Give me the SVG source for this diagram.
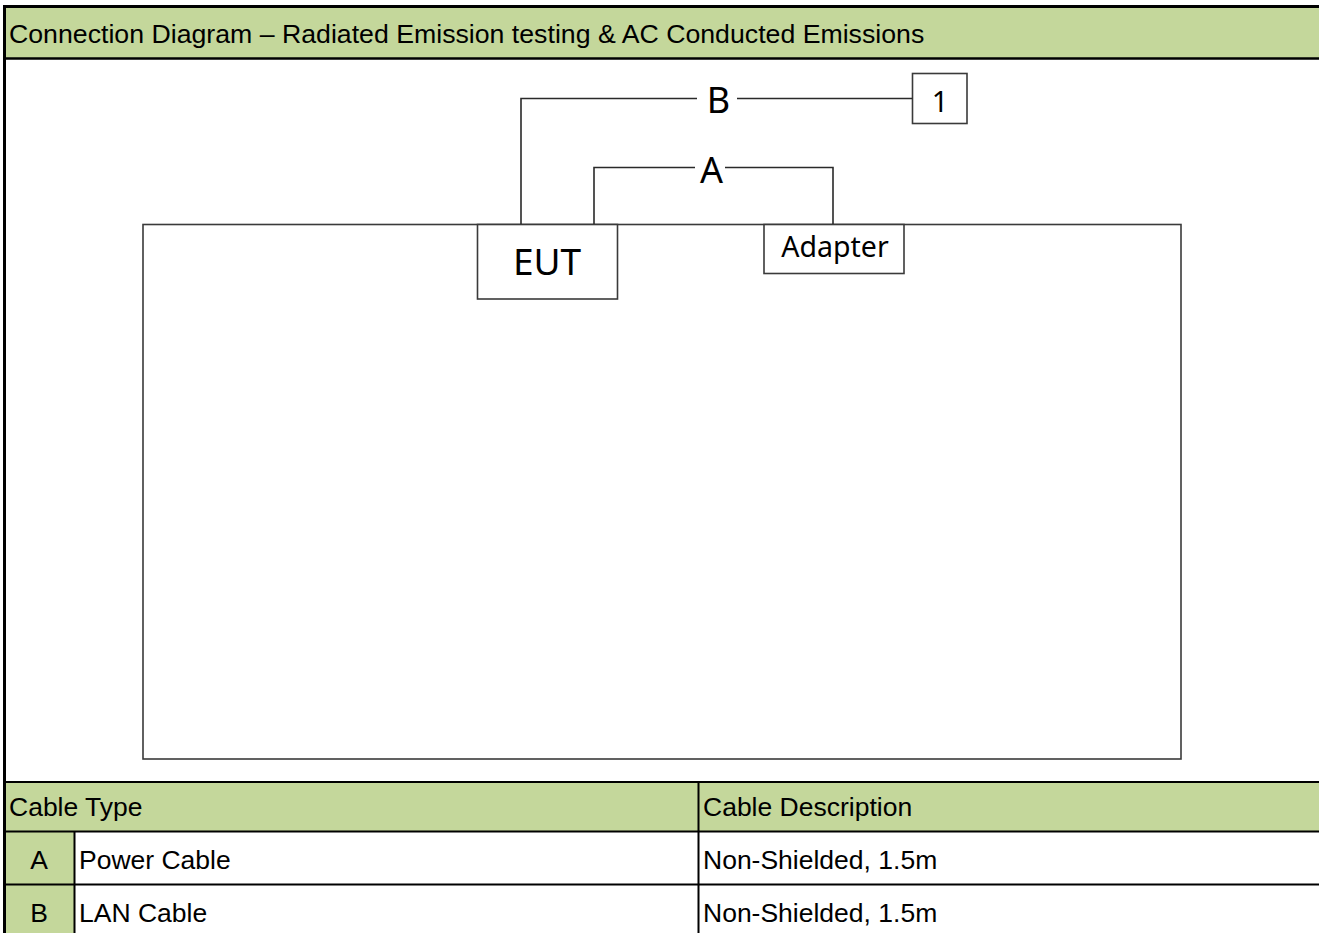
<svg xmlns="http://www.w3.org/2000/svg" width="1319" height="933" viewBox="0 0 1319 933">
<style>
.t{font-family:"Liberation Sans",Arial,sans-serif;fill:#000;font-size:26.5px}
.d{font-family:"Noto Sans","Open Sans",sans-serif;fill:#000}
.box{fill:#fff;stroke:#3a3a3a;stroke-width:1.6}
.wire{fill:none;stroke:#2a2a2a;stroke-width:1.6}
.g{fill:#C4D79B}
.bl{stroke:#000;fill:none}
</style>
<rect x="0" y="0" width="1319" height="933" fill="#fff"/>
<g id="header">
<rect class="g" x="5" y="8" width="1314" height="50"/>
<text class="t" x="9" y="43" style="font-size:26.7px">Connection Diagram – Radiated Emission testing &amp; AC Conducted Emissions</text>
</g>
<g id="table-area">
<rect x="143" y="224.5" width="1038" height="534.5" class="box"/>
</g>
<g id="eut">
<rect x="477.5" y="224.5" width="140" height="74.5" class="box"/>
<text class="d" x="547" y="275" font-size="37" text-anchor="middle">EUT</text>
</g>
<g id="adapter">
<rect x="764" y="224.5" width="140" height="49" class="box"/>
<text class="d" x="835" y="257" font-size="28.5" text-anchor="middle">Adapter</text>
</g>
<g id="device1">
<rect x="912.5" y="73.5" width="54.5" height="50" class="box"/>
<text class="d" x="940" y="111.5" font-size="29" text-anchor="middle">1</text>
</g>
<g id="connectors">
<path class="wire" d="M521 224 V98.5 H697 M737 98.5 H912.5"/>
<text class="d" x="718.5" y="112.5" font-size="36" text-anchor="middle">B</text>
<path class="wire" d="M594 224 V167.5 H695 M725 167.5 H833 V224"/>
<text class="d" x="711.5" y="183" font-size="36" text-anchor="middle">A</text>
</g>
<g id="cable-table">
<rect class="g" x="5" y="782" width="1314" height="50"/>
<rect class="g" x="5" y="832" width="69" height="101"/>
<text class="t" x="9" y="816">Cable Type</text>
<text class="t" x="703" y="816">Cable Description</text>
<text class="t" x="39" y="869" text-anchor="middle">A</text>
<text class="t" x="79" y="869">Power Cable</text>
<text class="t" x="703" y="869">Non-Shielded, 1.5m</text>
<text class="t" x="39" y="922" text-anchor="middle">B</text>
<text class="t" x="79" y="922">LAN Cable</text>
<text class="t" x="703" y="922">Non-Shielded, 1.5m</text>
<path class="bl" stroke-width="2" d="M5 782 H1319 M5 831.5 H1319 M5 884.5 H1319 M74.5 832 V933 M698.5 782 V933"/>
</g>
<g id="frame">
<path class="bl" stroke-width="3" d="M3 6.5 H1319 M4.5 5 V933"/>
<path class="bl" stroke-width="2.5" d="M5 58.5 H1319"/>
</g>
</svg>
